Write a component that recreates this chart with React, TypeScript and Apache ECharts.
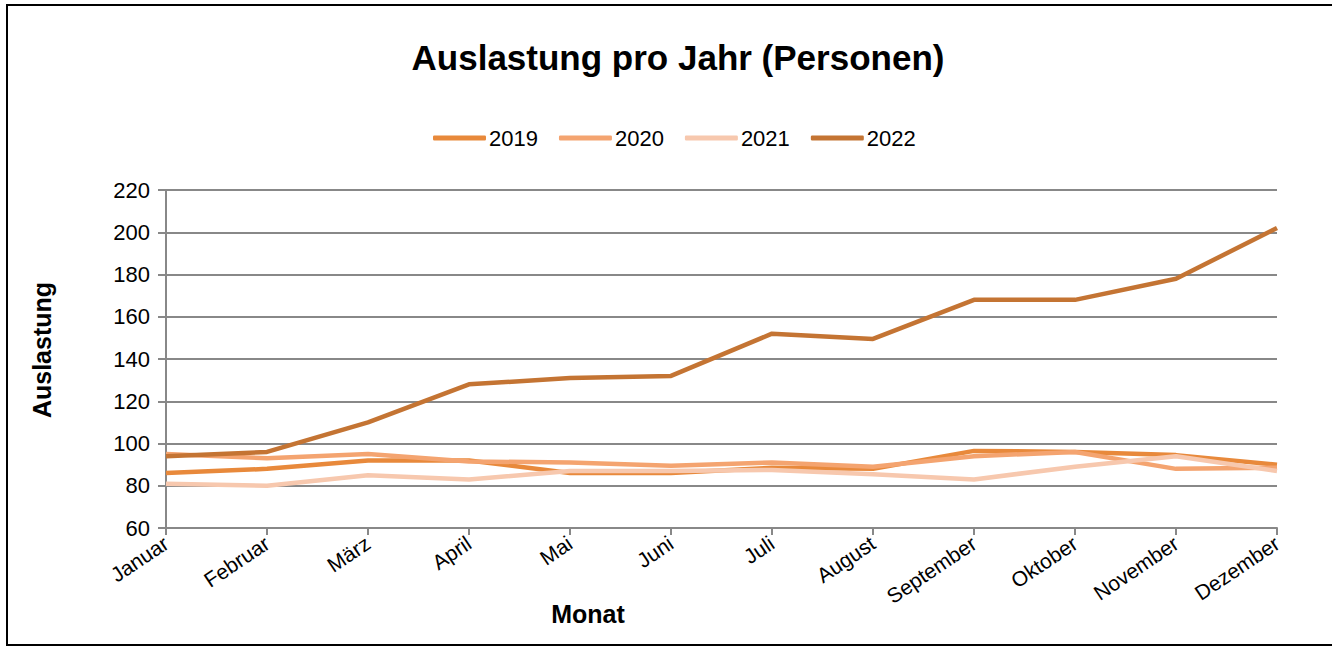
import React, { useEffect, useRef } from "react";
import * as echarts from "echarts";

const months = ["Januar", "Februar", "März", "April", "Mai", "Juni", "Juli", "August", "September", "Oktober", "November", "Dezember"];
const s2019 = [86, 88, 92, 92, 86, 86, 88.5, 88, 96.5, 96, 94.5, 90];
const s2020 = [95, 93, 95, 91.5, 91, 89.5, 91, 89, 94, 96, 88, 88.5];
const s2021 = [81, 80, 85, 83, 87, 87, 87.5, 85.5, 83, 89, 94, 87];
const s2022 = [94, 96, 110, 128, 131, 132, 152, 149.5, 168, 168, 178, 202];
const yTicks = { min: 60, max: 220, interval: 20 };
const seriesNames = ["2019", "2020", "2021", "2022"];
const colors = ["#E8893B", "#F4A470", "#F7C8AE", "#C47433"];

const FONT = "Liberation Sans, Arial, sans-serif";

export default function App() {
  const ref = useRef<HTMLDivElement>(null);
  useEffect(() => {
    if (!ref.current) return;
    const chart = echarts.init(ref.current, null, { renderer: "svg" });
    const data = [s2019, s2020, s2021, s2022];
    chart.setOption({
      animation: false,
      color: colors,
      textStyle: { fontFamily: FONT },
      grid: { left: 166, right: 55, top: 190, bottom: 118, containLabel: false },
      legend: {
        left: 428,
        top: 122,
        icon: "roundRect",
        itemWidth: 53,
        itemHeight: 5,
        itemGap: 21,
        data: seriesNames,
        textStyle: { fontSize: 22, color: "#000", fontFamily: FONT, padding: [0, 0, 0, -2] },
      },
      xAxis: {
        type: "category",
        data: months,
        boundaryGap: false,
        axisLine: { lineStyle: { color: "#888", width: 2 } },
        axisTick: { show: true, length: 7, lineStyle: { color: "#888", width: 2 } },
        axisLabel: { rotate: 34, margin: 13, fontSize: 21, color: "#000", fontFamily: FONT, interval: 0 },
        splitLine: { show: false },
      },
      yAxis: {
        type: "value",
        min: yTicks.min,
        max: yTicks.max,
        interval: yTicks.interval,
        axisLine: { show: true, lineStyle: { color: "#888", width: 2 } },
        axisTick: { show: true, length: 8, lineStyle: { color: "#888", width: 2 } },
        axisLabel: { margin: 16, fontSize: 22, color: "#000", fontFamily: FONT },
        splitLine: { show: true, lineStyle: { color: "#888", width: 2 } },
      },
      series: seriesNames.map((n, i) => ({
        name: n,
        type: "line",
        data: data[i],
        symbol: "none",
        lineStyle: { width: 4.5, color: colors[i] },
        itemStyle: { color: colors[i] },
      })),
      graphic: [
        {
          type: "rect",
          shape: { x: 7, y: 5, width: 1340, height: 640 },
          style: { fill: "none", stroke: "#000", lineWidth: 2 },
          silent: true,
        },
        {
          type: "text",
          x: 678,
          y: 57,
          style: {
            text: "Auslastung pro Jahr (Personen)",
            fontSize: 35,
            fontWeight: "bold",
            fontFamily: FONT,
            fill: "#000",
            align: "center",
            verticalAlign: "middle",
          },
        },
        {
          type: "text",
          x: 42,
          y: 350,
          rotation: Math.PI / 2,
          style: {
            text: "Auslastung",
            fontSize: 25,
            fontWeight: "bold",
            fontFamily: FONT,
            fill: "#000",
            align: "center",
            verticalAlign: "middle",
          },
        },
        {
          type: "text",
          x: 588,
          y: 614,
          style: {
            text: "Monat",
            fontSize: 25,
            fontWeight: "bold",
            fontFamily: FONT,
            fill: "#000",
            align: "center",
            verticalAlign: "middle",
          },
        },
      ],
    });
    return () => chart.dispose();
  }, []);
  return (
    <div style={{ position: "fixed", left: 0, top: 0, width: 1332, height: 646, background: "#fff" }}>
      <div ref={ref} style={{ width: 1332, height: 646 }} />
    </div>
  );
}
